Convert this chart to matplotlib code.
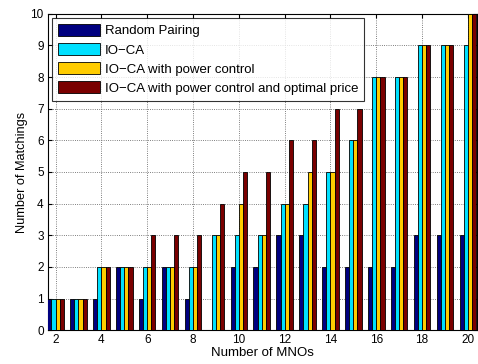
import matplotlib

matplotlib.use("Agg")
import matplotlib.pyplot as plt
import numpy as np

plt.rcParams["font.family"] = ["Liberation Sans", "DejaVu Sans"]

mnos = np.arange(2, 21)
random_pairing = [1, 1, 1, 2, 1, 2, 1, 0, 2, 2, 3, 3, 2, 2, 2, 2, 3, 3, 3]
io_ca = [1, 1, 2, 2, 2, 2, 2, 3, 3, 3, 4, 4, 5, 6, 8, 8, 9, 9, 9]
io_ca_pc = [1, 1, 2, 2, 2, 2, 2, 3, 4, 3, 4, 5, 5, 6, 8, 8, 9, 9, 10]
io_ca_pc_price = [1, 1, 2, 2, 3, 3, 3, 4, 5, 5, 6, 6, 7, 7, 8, 8, 9, 9, 10]

series = [random_pairing, io_ca, io_ca_pc, io_ca_pc_price]
labels = ["Random Pairing", "IO\u2212CA", "IO\u2212CA with power control",
          "IO\u2212CA with power control and optimal price"]
colors = ["#000080", "#00e0ff", "#ffcc00", "#7a0000"]

fig = plt.figure(figsize=(4.78, 3.64), dpi=100)
ax = fig.add_axes([0.1, 0.093, 0.898, 0.869])

w = 0.18
offsets = [-0.27, -0.09, 0.09, 0.27]
for vals, lab, col, off in zip(series, labels, colors, offsets):
    ax.bar(mnos + off, vals, w, color=col, edgecolor="black", linewidth=0.6,
           label=lab, zorder=3)

ax.set_xlim(1.66, 20.4)
ax.set_ylim(0, 10)
ax.set_xticks(np.arange(2, 21, 2))
ax.set_yticks(np.arange(0, 11))
ax.tick_params(labelsize=8.5, direction="in", length=3, top=True, right=True, pad=3)
ax.grid(True, ls=":", color="#555555", lw=0.6, zorder=0)
ax.set_xlabel("Number of MNOs", fontsize=9.5, labelpad=0.5)
ax.set_ylabel("Number of Matchings", fontsize=9.2, labelpad=2)

leg = ax.legend(loc="upper left", fontsize=9.5, frameon=True, fancybox=False,
                edgecolor="black", handlelength=3.2, handleheight=1.05,
                borderaxespad=0.3, labelspacing=0.42, handletextpad=0.35,
                borderpad=0.45)
leg.get_frame().set_linewidth(0.8)
leg.set_zorder(5)

fig.savefig("out.png", dpi=100)
